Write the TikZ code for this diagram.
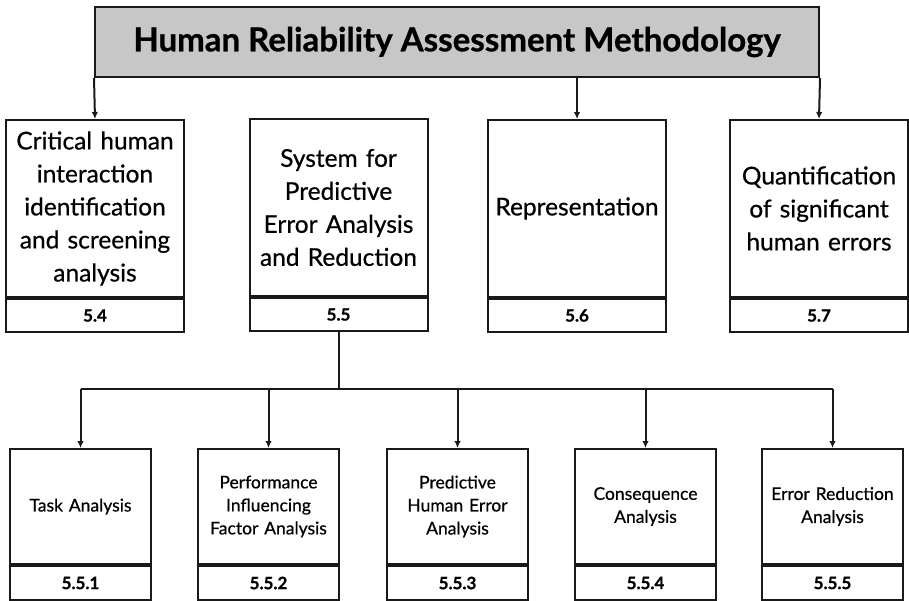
\documentclass[tikz,border=0pt]{standalone}
\usepackage{fontspec}
\setmainfont{Lato}
\newfontfamily\labelfont{Lato}[FakeBold=0.6]
\newfontfamily\numfont{Lato Bold}[FakeBold=0.8]
\usetikzlibrary{arrows.meta}
\begin{document}
\begin{tikzpicture}[x=1pt,y=-1pt,
  frame/.style={draw=black!90, line width=2pt},
  topbox/.style={frame, anchor=north west, minimum width=178pt, minimum height=177pt,
    inner sep=0pt, text width=174pt, align=center,
    font=\labelfont\fontsize{24.5}{33}\selectfont},
  subbox/.style={frame, anchor=north west, minimum width=141pt, minimum height=115pt,
    inner sep=0pt, text width=139pt, align=center,
    font=\labelfont\fontsize{17.5}{23}\selectfont},
  topnum/.style={frame, anchor=north, minimum width=178pt, minimum height=33pt,
    inner sep=0pt, font=\numfont\fontsize{17}{20}\selectfont},
  subnum/.style={frame, anchor=north, minimum width=141pt, minimum height=34pt,
    inner sep=0pt, font=\numfont\fontsize{17}{20}\selectfont},
  link/.style={draw=black!90, line width=2pt},
  arr/.style={link, -{Latex[length=7pt,width=6.5pt]}}
]
\useasboundingbox (0,0) rectangle (909,600);

% heading
\node[frame, fill=black!22, anchor=north west, minimum width=724pt, minimum height=70pt,
      inner sep=0pt, font=\numfont\fontsize{33}{38}\selectfont]
  (title) at (94,6) {Human Reliability Assessment Methodology};

% first level
\node[topbox] (b54) at (5,119) {Critical human\\interaction\\identification\\and screening\\analysis};
\node[topnum] (n54) at (b54.south) {5.4};
\node[topbox] (b55) at (248.5,118) {System for\\Predictive\\Error Analysis\\and Reduction};
\node[topnum] (n55) at (b55.south) {5.5};
\node[topbox] (b56) at (487,119) {Representation};
\node[topnum] (n56) at (b56.south) {5.6};
\node[topbox] (b57) at (729,119) {Quantification\\of significant\\human errors};
\node[topnum] (n57) at (b57.south) {5.7};

% second level
\node[subbox] (c1) at (9,448) {Task Analysis};
\node[subnum] (m1) at (c1.south) {5.5.1};
\node[subbox] (c2) at (197,448) {Performance\\Influencing\\Factor Analysis};
\node[subnum] (m2) at (c2.south) {5.5.2};
\node[subbox] (c3) at (386,448) {Predictive\\Human Error\\Analysis};
\node[subnum] (m3) at (c3.south) {5.5.3};
\node[subbox] (c4) at (574,448) {Consequence\\Analysis};
\node[subnum] (m4) at (c4.south) {5.5.4};
\node[subbox] (c5) at (761,448) {Error Reduction\\Analysis};
\node[subnum] (m5) at (c5.south) {5.5.5};

% connectors from the heading
\draw[arr] (title.south west) -- (b54.north);
\draw[arr] (b56.north |- title.south) -- (b56.north);
\draw[arr] (title.south east) -- (b57.north);

% distribution bar below 5.5
\coordinate (bus) at (n55.south |- 0,389);
\draw[link] (n55.south) -- (bus);
\draw[link] (c1.north |- bus) -- (c5.north |- bus);
\foreach \c in {c1,c2,c3,c4,c5}
  \draw[arr] (\c.north |- bus) -- (\c.north);
\end{tikzpicture}
\end{document}
